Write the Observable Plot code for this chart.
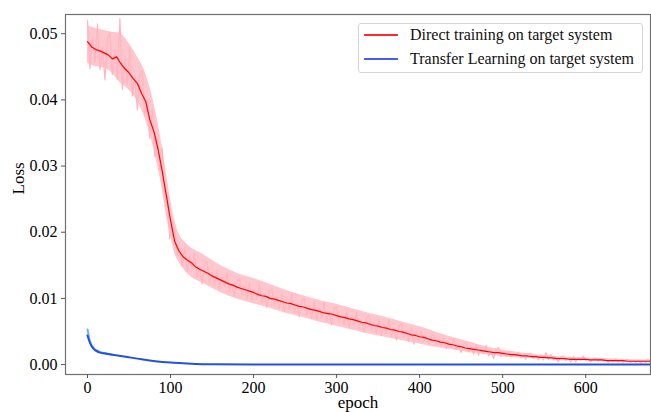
<!DOCTYPE html>
<html>
<head>
<meta charset="utf-8">
<script src="https://cdn.jsdelivr.net/npm/d3@7"></script>
<script src="https://cdn.jsdelivr.net/npm/@observablehq/plot@0.6"></script>
<style>
  html, body { margin: 0; padding: 0; background: #fff; }
  #wrap { position: relative; width: 651px; height: 412px; overflow: hidden; font-family: "Liberation Serif", "Times New Roman", serif; }
  #legend { position: absolute; left: 358px; top: 23px; width: 285px; height: 50px; border: 1px solid #d6d6d6; border-radius: 3px; background: rgba(255,255,255,0.85); box-sizing: border-box; }
  .row { position: absolute; left: 0; height: 18px; width: 283px; }
  .sw { position: absolute; left: 5px; top: 8px; width: 34px; height: 1.5px; }
  .lbl { position: absolute; left: 51px; top: 0; font-size: 16px; line-height: 18px; color: #111; white-space: nowrap; }
</style>
</head>
<body>
<div id="wrap"><div id="legend">
  <div class="row" style="top:2px"><div class="sw" style="background:#ff2a2a"></div><span class="lbl">Direct training on target system</span></div>
  <div class="row" style="top:26px"><div class="sw" style="background:#4a5cf0"></div><span class="lbl">Transfer Learning on target system</span></div>
</div></div>
<script>
// ---- data ----
const xTicks = [0, 100, 200, 300, 400, 500, 600];
const yTicks = [0, 0.01, 0.02, 0.03, 0.04, 0.05];

// raw (noisy) loss of direct training, sampled every 3 epochs from 0 to 678
const directRawStep = 3;
const directRaw = [
  0.0520,0.0447,0.0495,0.0457,0.0515,0.0446,0.0480,0.0430,0.0493,0.0502,
  0.0438,0.0476,0.0431,0.0523,0.0416,0.0463,0.0423,0.0479,0.0406,0.0437,
  0.0385,0.0440,0.0444,0.0376,0.0398,0.0342,0.0387,0.0314,0.0344,0.0295,
  0.0327,0.0246,0.0255,0.0190,0.0217,0.0204,0.0165,0.0176,0.0149,0.0177,
  0.0140,0.0164,0.0143,0.0169,0.0132,0.0148,0.0122,0.0152,0.0156,0.0124,
  0.0139,0.0119,0.0143,0.0114,0.0133,0.0117,0.0139,0.0111,0.0123,0.0103,
  0.0127,0.0130,0.0105,0.0118,0.0099,0.0124,0.0096,0.0114,0.0099,0.0121,
  0.0093,0.0106,0.0086,0.0111,0.0114,0.0089,0.0103,0.0084,0.0108,0.0080,
  0.0099,0.0084,0.0107,0.0079,0.0092,0.0072,0.0097,0.0100,0.0075,0.0089,
  0.0070,0.0095,0.0067,0.0086,0.0071,0.0094,0.0066,0.0080,0.0060,0.0085,
  0.0087,0.0065,0.0076,0.0060,0.0081,0.0056,0.0074,0.0060,0.0080,0.0055,
  0.0067,0.0049,0.0070,0.0074,0.0052,0.0063,0.0047,0.0069,0.0044,0.0062,
  0.0048,0.0068,0.0043,0.0055,0.0037,0.0058,0.0062,0.0041,0.0052,0.0035,
  0.0056,0.0031,0.0050,0.0036,0.0051,0.0035,0.0042,0.0030,0.0043,0.0045,
  0.0031,0.0038,0.0027,0.0040,0.0024,0.0035,0.0026,0.0039,0.0023,0.0030,
  0.0018,0.0031,0.0033,0.0019,0.0027,0.0016,0.0029,0.0014,0.0025,0.0016,
  0.0029,0.0013,0.0021,0.0009,0.0023,0.0026,0.0012,0.0019,0.0012,0.0020,
  0.0011,0.0017,0.0012,0.0019,0.0010,0.0014,0.0008,0.0016,0.0017,0.0009,
  0.0014,0.0007,0.0015,0.0007,0.0018,0.0008,0.0015,0.0007,0.0010,0.0004,
  0.0012,0.0013,0.0006,0.0010,0.0004,0.0012,0.0004,0.0010,0.0006,0.0013,
  0.0006,0.0008,0.0004,0.0009,0.0010,0.0005,0.0008,0.0005,0.0008,0.0003,
  0.0007,0.0005,0.0009,0.0004,0.0007,0.0003,0.0007,0.0008,0.0003,0.0006,
  0.0003,0.0007,0.0002,0.0006,0.0003,0.0008,0.0003
];

// bulk spread of the raw direct-training loss (lower / upper edge of the pink band)
const bandEpochs = [0,10,20,30,40,50,60,70,80,90,95,100,105,110,120,140,160,180,200,220,240,260,280,300,320,340,360,380,400,420,440,460,480,500,520,540,560,580,600,620,640,660,680];
const bandLow  = [0.0455,0.0450,0.0448,0.0440,0.0425,0.0415,0.0398,0.0370,0.0325,0.0265,0.0225,0.0195,0.0168,0.0155,0.0138,0.0122,0.0109,0.0099,0.0092,0.0085,0.0077,0.0071,0.0064,0.0058,0.0052,0.0046,0.0041,0.0036,0.0031,0.0026,0.0022,0.0018,0.0015,0.0012,0.0010,0.0009,0.0008,0.0007,0.0006,0.0005,0.0004,0.0004,0.0003];
const bandHigh = [0.0512,0.0508,0.0505,0.0502,0.0500,0.0485,0.0465,0.0440,0.0395,0.0330,0.0290,0.0250,0.0218,0.0198,0.0182,0.0166,0.0150,0.0138,0.0130,0.0121,0.0112,0.0104,0.0097,0.0091,0.0084,0.0077,0.0071,0.0064,0.0057,0.0049,0.0041,0.0034,0.0027,0.0022,0.0018,0.0015,0.0013,0.0011,0.0010,0.0009,0.0008,0.0007,0.0007];

// smoothed loss of direct training, every 5 epochs from 0 to 680
const directSmoothStep = 5;
const directSmooth = [
  0.0488,0.0480,0.0476,0.0474,0.0471,0.0468,0.0462,0.0465,0.0455,0.0447,
  0.0441,0.0432,0.0425,0.0410,0.0398,0.0370,0.0352,0.0325,0.0292,0.0255,
  0.0218,0.0186,0.0172,0.0163,0.0158,0.0154,0.0148,0.0144,0.0141,0.0138,
  0.0134,0.0131,0.0128,0.0125,0.0122,0.0120,0.0117,0.0115,0.0113,0.0111,
  0.0109,0.0106,0.0104,0.0103,0.0100,0.0099,0.0097,0.0095,0.0093,0.0092,
  0.0090,0.0088,0.0087,0.0085,0.0083,0.0082,0.0080,0.0078,0.0077,0.0076,
  0.0074,0.0072,0.0071,0.0069,0.0068,0.0066,0.0064,0.0063,0.0061,0.0059,
  0.0058,0.0056,0.0055,0.0053,0.0052,0.0050,0.0049,0.0047,0.0045,0.0044,
  0.0042,0.0041,0.0039,0.0037,0.0036,0.0034,0.0033,0.0031,0.0030,0.0028,
  0.0027,0.0025,0.0024,0.0023,0.0022,0.0021,0.0020,0.0019,0.0018,0.0018,
  0.0017,0.0016,0.0015,0.0015,0.0014,0.0013,0.0013,0.0012,0.0012,0.0011,
  0.0011,0.0010,0.0010,0.0009,0.0009,0.0009,0.0008,0.0008,0.0008,0.0008,
  0.0008,0.0007,0.0007,0.0007,0.0007,0.0006,0.0006,0.0006,0.0006,0.0006,
  0.0005,0.0005,0.0005,0.0005,0.0005,0.0005,0.0005
];

// transfer learning loss
const transferEpochs = [0,2,4,6,8,10,15,20,30,40,50,60,75,90,100,115,130,150,200,300,400,500,600,680];
const transferLoss = [0.0044,0.0036,0.0030,0.0026,0.0023,0.0021,0.0018,0.0017,0.0015,0.0013,0.0011,0.0009,0.0006,0.0004,0.0003,0.0002,0.0001,0.00005,0.00003,0.00002,0.00002,0.00002,0.00002,0.00002];
const transferRawEpochs = [0,1,2,3,5,8,10,15,20,30];
const transferRaw = [0.0053,0.0047,0.0040,0.0035,0.0029,0.0024,0.0022,0.0019,0.0017,0.0015];

// ---- tables ----
const rawRows = directRaw.map((v, i) => ({epoch: i * directRawStep, loss: v}));
const bandRows = bandEpochs.map((e, i) => ({epoch: e, lo: bandLow[i], hi: bandHigh[i]}));
const smoothRows = directSmooth.map((v, i) => ({epoch: i * directSmoothStep, loss: v}));
const tRows = transferLoss.map((v, i) => ({epoch: transferEpochs[i], loss: v}));
const tRawRows = transferRaw.map((v, i) => ({epoch: transferRawEpochs[i], loss: v}));

const chart = Plot.plot({
  width: 651,
  height: 412,
  marginLeft: 65,
  marginRight: 1,
  marginTop: 14,
  marginBottom: 38,
  style: {fontFamily: "'Liberation Serif', 'Times New Roman', serif", fontSize: "16px", color: "#000", background: "transparent"},
  x: {domain: [-26.5, 678]},
  y: {domain: [-0.0015, 0.0529]},
  marks: [
    Plot.areaY(bandRows, {x: "epoch", y1: "lo", y2: "hi", fill: "#ffc6cd", curve: "monotone-x", clip: true}),
    Plot.lineY(rawRows, {x: "epoch", y: "loss", stroke: "#ffb6bf", strokeWidth: 1.2, clip: true}),
    Plot.lineY(smoothRows, {x: "epoch", y: "loss", stroke: "#ff0000", strokeWidth: 1.2, clip: true}),
    Plot.lineY(tRawRows, {x: "epoch", y: "loss", stroke: "#6ab4ff", strokeWidth: 2, clip: true}),
    Plot.lineY(tRows, {x: "epoch", y: "loss", stroke: "#2450dc", strokeWidth: 2, curve: "monotone-x", clip: true}),
    Plot.frame({stroke: "#707070", strokeWidth: 1.2}),
    Plot.axisX({ticks: xTicks, tickSize: 4, tickPadding: 3, label: null, stroke: "#555", fontSize: 16}),
    Plot.axisY({ticks: yTicks, tickFormat: d => d.toFixed(2), tickSize: 4, tickPadding: 4, label: null, stroke: "#555", fontSize: 16}),
    Plot.text(["epoch"], {text: d => d, frameAnchor: "bottom", dy: 33, fontSize: 17}),
    Plot.text(["Loss"], {text: d => d, frameAnchor: "left", dx: -47, rotate: -90, fontSize: 17})
  ]
});
document.getElementById("wrap").insertBefore(chart, document.getElementById("legend"));
</script>
</body>
</html>
